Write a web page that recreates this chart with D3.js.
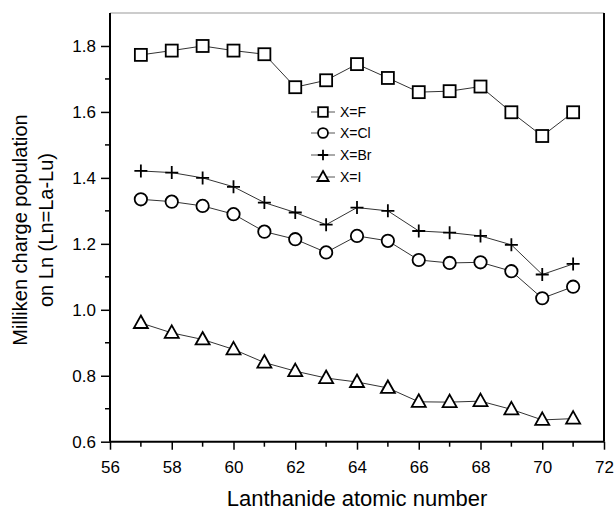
<!DOCTYPE html>
<html><head><meta charset="utf-8">
<script src="https://cdn.jsdelivr.net/npm/d3@7"></script>
<style>body{margin:0;background:#fff}svg{display:block}</style>
</head><body>
<svg id="c" width="616" height="512"></svg>
<script>
const atomicNumbers = [57,58,59,60,61,62,63,64,65,66,67,68,69,70,71];
const seriesNames = ["X=F","X=Cl","X=Br","X=I"];
const valuesF  = [1.773,1.786,1.800,1.786,1.775,1.675,1.696,1.745,1.703,1.660,1.663,1.677,1.599,1.527,1.599];
const valuesCl = [1.335,1.328,1.315,1.290,1.237,1.214,1.174,1.224,1.209,1.151,1.142,1.144,1.117,1.035,1.070];
const valuesBr = [1.421,1.416,1.400,1.373,1.325,1.295,1.258,1.310,1.300,1.239,1.234,1.224,1.197,1.107,1.139];
const valuesI  = [0.960,0.930,0.910,0.880,0.840,0.814,0.793,0.781,0.763,0.721,0.720,0.723,0.698,0.666,0.670];
const xTicks = [56,58,60,62,64,66,68,70,72];
const yTicks = [0.6,0.8,1.0,1.2,1.4,1.6,1.8];

const svg = d3.select("#c");
const L=110, R=604, T=13, B=441.7;
const x = d3.scaleLinear().domain([56,72]).range([L,R]);
const y = d3.scaleLinear().domain([0.6,1.9]).range([B,T]);
const font = "Liberation Sans, Arial, sans-serif";

svg.append("line").attr("x1",L).attr("x2",R).attr("y1",T).attr("y2",T).attr("stroke","#999").attr("stroke-width",1);
svg.append("line").attr("x1",R).attr("x2",R).attr("y1",T).attr("y2",B).attr("stroke","#000").attr("stroke-width",2);

const xAx = svg.append("g").attr("transform",`translate(0,${B})`)
  .call(d3.axisBottom(x).tickValues(xTicks).tickFormat(d3.format("d")).tickSize(8).tickPadding(11));
xAx.append("g").selectAll("line").data(d3.range(57,72,2)).join("line")
  .attr("x1",d=>x(d)).attr("x2",d=>x(d)).attr("y1",0).attr("y2",5).attr("stroke","#000").attr("stroke-width",1.5);
const yAx = svg.append("g").attr("transform",`translate(${L},0)`)
  .call(d3.axisLeft(y).tickValues(yTicks).tickFormat(d3.format(".1f")).tickSize(9).tickPadding(5));
yAx.append("g").selectAll("line").data([0.7,0.9,1.1,1.3,1.5,1.7]).join("line")
  .attr("y1",d=>y(d)).attr("y2",d=>y(d)).attr("x1",0).attr("x2",-5).attr("stroke","#000").attr("stroke-width",1.5);
[xAx,yAx].forEach(g=>{
  g.select(".domain").attr("stroke-width",2);
  g.selectAll(".tick line").attr("stroke-width",1.5);
  g.selectAll("text").attr("font-family",font).attr("font-size",17).attr("fill","#000");
});
xAx.select(".domain").attr("d",`M${L},0H${R}`);
yAx.select(".domain").attr("d",`M0,${B}V${T}`);

svg.append("text").attr("x",357).attr("y",506).attr("text-anchor","middle")
  .attr("font-family",font).attr("font-size",22).text("Lanthanide atomic number");
const yt = svg.append("text").attr("transform","translate(0,230) rotate(-90)")
  .attr("text-anchor","middle").attr("font-family",font).attr("font-size",20);
yt.append("tspan").attr("x",0).attr("y",27).text("Milliken charge population");
yt.append("tspan").attr("x",0).attr("y",53).text("on Ln (Ln=La-Lu)");

function marker(g, type, s){
  const sw = 1.8;
  if(type===0) g.append("rect").attr("x",-6*s).attr("y",-6*s).attr("width",12*s).attr("height",12*s)
      .attr("fill","#fff").attr("stroke","#000").attr("stroke-width",sw);
  else if(type===1) g.append("circle").attr("r",6.2*s).attr("fill","#fff").attr("stroke","#000").attr("stroke-width",sw);
  else if(type===2) g.append("path").attr("d",`M${-6.5*s},0H${6.5*s}M0,${-6.5*s}V${6.5*s}`).attr("stroke","#000").attr("stroke-width",sw).attr("fill","none");
  else g.append("path").attr("d",`M0,${-7.5*s}L${7*s},${5*s}L${-7*s},${5*s}Z`).attr("fill","#fff").attr("stroke","#000").attr("stroke-width",sw);
}

const allSeries = [valuesF, valuesCl, valuesBr, valuesI];
const lineGen = d3.line().x((d,i)=>x(atomicNumbers[i])).y(d=>y(d));
allSeries.forEach((vals,si)=>{
  svg.append("path").attr("d",lineGen(vals)).attr("fill","none").attr("stroke","#333").attr("stroke-width",1);
  svg.append("g").selectAll("g").data(vals).join("g")
    .attr("transform",(d,i)=>`translate(${x(atomicNumbers[i])},${y(d)})`)
    .each(function(){ marker(d3.select(this), si, 1); });
});

const legY = [112,133,155,177];
seriesNames.forEach((name,si)=>{
  const g = svg.append("g").attr("transform",`translate(0,${legY[si]})`);
  g.append("line").attr("x1",311).attr("x2",335).attr("y1",0).attr("y2",0).attr("stroke","#555").attr("stroke-width",1);
  const m = g.append("g").attr("transform","translate(323,0)");
  marker(m, si, 0.8);
  g.append("text").attr("x",340).attr("y",5).attr("font-family",font).attr("font-size",14).text(name);
});
</script>
</body></html>
